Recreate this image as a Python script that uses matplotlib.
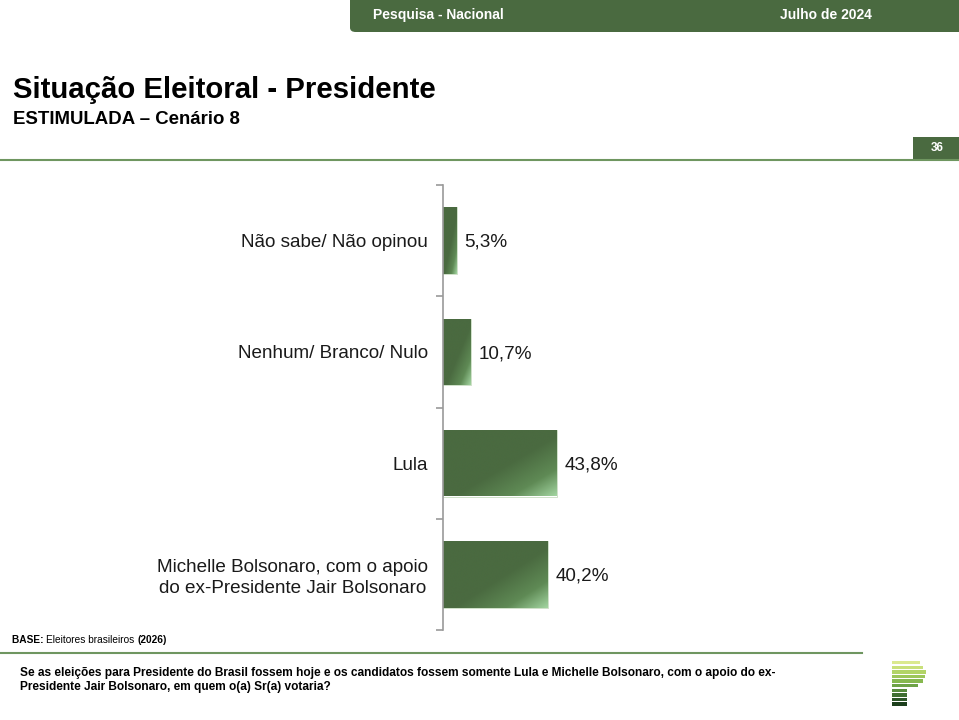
import numpy as np
import matplotlib
matplotlib.use("Agg")
import matplotlib.pyplot as plt
from matplotlib.patches import Rectangle, FancyBboxPatch
from matplotlib.colors import LinearSegmentedColormap

plt.rcParams['font.family'] = ['Liberation Sans', 'DejaVu Sans']

# data
categories = ["Não sabe/ Não opinou", "Nenhum/ Branco/ Nulo", "Lula",
              "Michelle Bolsonaro, com o apoio\ndo ex-Presidente Jair Bolsonaro"]
values = [5.3, 10.7, 43.8, 40.2]
value_labels = ["5,3%", "10,7%", "43,8%", "40,2%"]

GREEN = "#4a6a40"
LINE_GREEN = "#6f9660"
W, H = 959, 720

fig = plt.figure(figsize=(W / 100, H / 100), dpi=100)

def fx(px):
    return px / W

def fy(py):
    return 1 - py / H

# header band
hdr = FancyBboxPatch((fx(350), fy(32)), fx(W - 350 + 20), 40 / H,
                     boxstyle="round,pad=0,rounding_size=0.006",
                     transform=fig.transFigure, facecolor=GREEN, edgecolor="none")
fig.patches.append(hdr)
fig.text(fx(373), fy(15), "Pesquisa - Nacional", color="white", fontsize=10,
         fontweight="bold", va="center", ha="left")
fig.text(fx(780), fy(15), "Julho de 2024", color="white", fontsize=10,
         fontweight="bold", va="center", ha="left")

# titles
fig.text(fx(13), fy(90), "Situação Eleitoral - Presidente", fontsize=21.2,
         fontweight="bold", va="center", ha="left")
fig.text(fx(13), fy(120), "ESTIMULADA – Cenário 8", fontsize=13.4,
         fontweight="bold", va="center", ha="left")

# top rule and page number
fig.add_artist(plt.Line2D([0, 1], [fy(160), fy(160)], color=LINE_GREEN, lw=1.5,
                          transform=fig.transFigure))
fig.patches.append(Rectangle((fx(913), fy(159)), fx(46), 22 / H,
                             transform=fig.transFigure, facecolor=GREEN,
                             edgecolor="none"))
fig.text(fx(937), fy(148), "36", color="white", fontsize=8.5, fontweight="bold",
         ha="center", va="center")

# chart
ax = fig.add_axes([fx(443), fy(630), fx(260), 445 / H])
ax.set_xlim(0, 100)
ax.set_ylim(3.5, -0.5)
for s in ["top", "right", "bottom"]:
    ax.spines[s].set_visible(False)
ax.spines["left"].set_color("#9a9a9a")
ax.spines["left"].set_linewidth(1.2)
ax.set_xticks([])
ax.set_yticks(np.arange(len(categories)))
ax.set_yticklabels(categories, fontsize=13.6, color="#1a1a1a", ha="right",
                   multialignment="center", linespacing=1.3)
ax.tick_params(axis="y", which="major", length=0, pad=11)
ax.set_yticks(np.arange(-0.5, len(categories), 1), minor=True)
ax.tick_params(axis="y", which="minor", length=5, color="#9a9a9a", width=1.2)

cmap = LinearSegmentedColormap.from_list(
    "bar", [(0, "#4a6a40"), (0.55, "#4a6a40"), (0.8, "#5f8a55"), (1, "#a2d4a0")])
bh = 0.6
n = 200
u, v = np.meshgrid(np.linspace(0, 1, n), np.linspace(0, 1, n))
grad = (u + v) / 2
bars = ax.barh(np.arange(len(values)), values, height=bh, color="none",
               edgecolor="#c8dcc0", linewidth=0.6)
for bar, val, lab in zip(bars, values, value_labels):
    x0, y0 = bar.get_x(), bar.get_y()
    w, h = bar.get_width(), bar.get_height()
    im = ax.imshow(grad, cmap=cmap, extent=[x0, x0 + w, y0 + h, y0],
                   aspect="auto", origin="upper", zorder=1)
    im.set_clip_path(bar)
    ax.text(val + 3, y0 + h / 2 + 0.015, lab, fontsize=13.6, color="#1a1a1a",
            va="center", ha="left")
ax.set_xlim(0, 100)
ax.set_ylim(3.5, -0.5)

# footer: base line with mixed weights, placed piece by piece
renderer = fig.canvas.get_renderer()
xpos = 12
for txt, wgt in [("BASE: ", "bold"), ("Eleitores brasileiros ", "normal"), ("(2026)", "bold")]:
    t = fig.text(fx(xpos), fy(640), txt, fontsize=7.3, fontweight=wgt,
                 va="center", ha="left")
    xpos = t.get_window_extent(renderer).x1
fig.add_artist(plt.Line2D([0, fx(862)], [fy(653), fy(653)], color=LINE_GREEN,
                          lw=1.5, transform=fig.transFigure))
fig.text(fx(20), fy(680),
         "Se as eleições para Presidente do Brasil fossem hoje e os candidatos fossem somente "
         "Lula e Michelle Bolsonaro, com o apoio do ex-\nPresidente Jair Bolsonaro, em quem o(a) "
         "Sr(a) votaria?",
         fontsize=8.6, fontweight="bold", va="center", ha="left", linespacing=1.3)

# logo
stripe_right = [920, 923, 926, 925, 923, 918, 907, 907, 907, 907]
stripe_cols = ["#dbe98f", "#c9e07a", "#b2d467", "#9cc65a", "#86b84f",
               "#6ea347", "#578b3d", "#406f32", "#2c5527", "#1c3f1c"]
for i, (r, c) in enumerate(zip(stripe_right, stripe_cols)):
    top = 661 + i * 4.6
    fig.patches.append(Rectangle((fx(892), fy(top + 3.4)), fx(r - 892), 3.4 / H,
                                 transform=fig.transFigure, facecolor=c,
                                 edgecolor="none"))

fig.savefig("out.png", dpi=100)
